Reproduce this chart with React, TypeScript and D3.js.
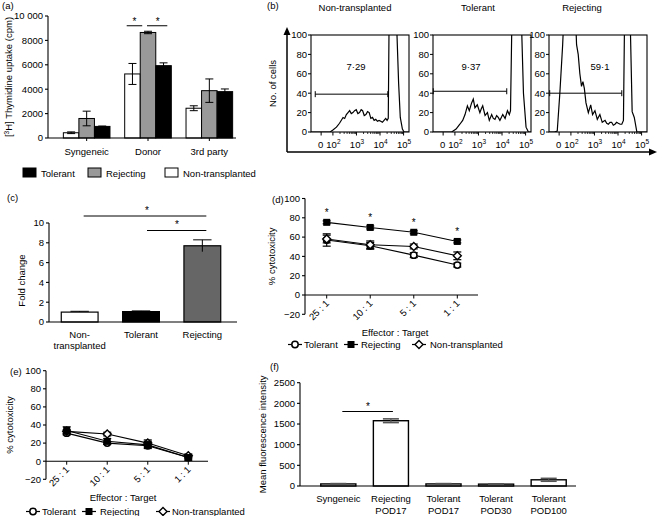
import * as d3 from "d3";

const FONT = "Liberation Sans, Arial, Helvetica, sans-serif";

// (a) thymidine uptake, cpm
const aGroups = ["Syngeneic", "Donor", "3rd party"];
const aSeries = ["Non-transplanted", "Rejecting", "Tolerant"];
const aNonTx = [430, 5250, 2440];
const aNonTxErr = [70, 860, 200];
const aRej = [1600, 8650, 3880];
const aRejErr = [600, 100, 960];
const aTol = [950, 5930, 3800];
const aTolErr = [30, 230, 220];
const aFill = ["#ffffff", "#999999", "#000000"];
const aYTicks = [0, 2000, 4000, 6000, 8000, 10000];
const aYLabels = ["0", "2000", "4000", "6000", "8000", "10 000"];
const aLegend = ["Tolerant", "Rejecting", "Non-transplanted"];
const aLegendFill = ["#000000", "#999999", "#ffffff"];

// (b) flow histograms, x in decades (biexponential display)
const bTitles = ["Non-transplanted", "Tolerant", "Rejecting"];
const bGateLabels = ["7·29", "9·37", "59·1"];
const bGateFrom = [1.25, 1.08, 1.1];
const bGateTo = [4.33, 4.2, 4.16];
const bGateY = [39, 42, 40];
const bXTicks = [2, 3, 4, 5];
const bXTickSup = ["2", "3", "4", "5"];
const bYTicks = [0, 20, 40, 60, 80, 100];
const bHistNonTx: [number, number][] = [
  [1.07, 0], [1.6, 0], [1.88, 0], [2.0, 2], [2.15, 5], [2.28, 9], [2.43, 15], [2.5, 14],
  [2.57, 18], [2.64, 20], [2.71, 22], [2.78, 19], [2.85, 20], [2.92, 22], [2.99, 23],
  [3.06, 19], [3.13, 20], [3.2, 23], [3.26, 22], [3.33, 17], [3.4, 18], [3.47, 21],
  [3.54, 20], [3.61, 14], [3.68, 15], [3.75, 12], [3.82, 13], [3.89, 11], [3.96, 12],
  [4.03, 11], [4.1, 10], [4.17, 12], [4.24, 14], [4.3, 12], [4.35, 14], [4.38, 100],
  [4.42, 130], [4.68, 130], [4.72, 100], [4.79, 50], [4.86, 15], [4.95, 3], [5.02, 0], [5.23, 0],
];
const bHistTol: [number, number][] = [
  [1.07, 0], [1.6, 0], [1.86, 0], [2.05, 3], [2.21, 8], [2.33, 12], [2.43, 18], [2.53, 27],
  [2.61, 22], [2.71, 30], [2.78, 34], [2.85, 25], [2.95, 28], [3.06, 20], [3.12, 24],
  [3.18, 27], [3.28, 17], [3.38, 20], [3.46, 12], [3.56, 18], [3.63, 14], [3.7, 13],
  [3.77, 17], [3.84, 15], [3.91, 12], [3.97, 15], [4.03, 18], [4.13, 14], [4.23, 22],
  [4.31, 18], [4.36, 22], [4.41, 100], [4.45, 130], [4.8, 130], [4.84, 100], [4.91, 40],
  [5.02, 5], [5.12, 0], [5.23, 0],
];
const bHistRej: [number, number][] = [
  [1.07, 0], [1.3, 0], [1.42, 1], [1.53, 40], [1.65, 90], [1.72, 130], [2.18, 130],
  [2.24, 90], [2.31, 80], [2.38, 60], [2.45, 47], [2.51, 52], [2.57, 45], [2.64, 30],
  [2.74, 20], [2.84, 28], [2.92, 18], [3.02, 22], [3.12, 13], [3.23, 18], [3.33, 10],
  [3.45, 12], [3.52, 9], [3.59, 8], [3.66, 10], [3.73, 10], [3.8, 7], [3.87, 8],
  [3.94, 10], [4.01, 9], [4.09, 8], [4.16, 8], [4.23, 12], [4.27, 100], [4.3, 130],
  [4.5, 130], [4.53, 100], [4.6, 21], [4.69, 15], [4.8, 0], [5.23, 0],
];
const bHists = [bHistNonTx, bHistTol, bHistRej];

// (c) fold change
const cCats = ["Non-", "Tolerant", "Rejecting"];
const cCats2 = ["transplanted", "", ""];
const cVals = [1.0, 1.05, 7.7];
const cErr = [0.08, 0.07, 0.6];
const cFill = ["#ffffff", "#000000", "#666666"];
const cYTicks = [0, 2, 4, 6, 8, 10];

// (d) and (e) cytotoxicity
const ratios = ["25 : 1", "10 : 1", "5 : 1", "1 : 1"];
const cytoTicks = [-20, 0, 20, 40, 60, 80, 100];
const dTol = [57, 51, 41.3, 31];
const dTolErr = [6.4, 3.5, 2.5, 2];
const dRej = [75.3, 70, 65, 55.5];
const dRejErr = [1.5, 1.5, 1.5, 1.5];
const dNon = [58, 52, 50.3, 40.6];
const dNonErr = [4, 4, 2.5, 4];
const eTol = [31, 20, 17, 4];
const eTolErr = [2, 1.5, 2, 1.5];
const eRej = [34, 22, 18, 4];
const eRejErr = [4, 3, 4, 3];
const eNon = [33, 30, 20, 6];
const eNonErr = [2, 2, 3.5, 2];
const cytoLegend = ["Tolerant", "Rejecting", "Non-transplanted"];

// (f) mean fluorescence intensity
const fCats = ["Syngeneic", "Rejecting", "Tolerant", "Tolerant", "Tolerant"];
const fCats2 = ["", "POD17", "POD17", "POD30", "POD100"];
const fVals = [50, 1580, 50, 45, 150];
const fErr = [8, 45, 8, 8, 35];
const fYTicks = [0, 500, 1000, 1500, 2000, 2500];

type Lin = d3.ScaleLinear<number, number>;

function YAxis({ x, y, ticks, labels }: { x: number; y: Lin; ticks: number[]; labels?: string[] }) {
  const [r0, r1] = y.range();
  return (
    <g>
      <line x1={x} x2={x} y1={r0} y2={r1} stroke="#000" strokeWidth={1.1} />
      {ticks.map((t, i) => (
        <g key={t}>
          <line x1={x - 3} x2={x} y1={y(t)} y2={y(t)} stroke="#000" strokeWidth={1.1} />
          <text x={x - 5} y={y(t)} dy="0.35em" textAnchor="end">
            {labels ? labels[i] : String(t).replace("-", "\u2212")}
          </text>
        </g>
      ))}
    </g>
  );
}

function Star({ x, y }: { x: number; y: number }) {
  return (
    <text x={x} y={y + 5} textAnchor="middle" fontSize={10}>
      *
    </text>
  );
}

function Marker({ kind, x, y }: { kind: string; x: number; y: number }) {
  if (kind === "circle")
    return <circle cx={x} cy={y} r={3.2} fill="#fff" stroke="#000" strokeWidth={1.5} />;
  if (kind === "square") return <rect x={x - 3.5} y={y - 3.5} width={7} height={7} fill="#000" />;
  return (
    <path
      d={`M${x},${y - 4}L${x + 4},${y}L${x},${y + 4}L${x - 4},${y}Z`}
      fill="#fff"
      stroke="#000"
      strokeWidth={1.4}
    />
  );
}

function PanelA() {
  const y = d3.scaleLinear().domain([0, 10000]).range([138, 16]);
  const x = d3.scaleBand().domain(aGroups).range([56, 240]).paddingInner(0.24).paddingOuter(0.12);
  const inner = d3.scaleBand().domain(aSeries).range([0, x.bandwidth()]);
  const vals = [aNonTx, aRej, aTol];
  const errs = [aNonTxErr, aRejErr, aTolErr];
  const bx = (g: number, s: number) => (x(aGroups[g]) ?? 0) + (inner(aSeries[s]) ?? 0);
  const bw = inner.bandwidth();
  return (
    <g>
      <text x={2} y={9}>(a)</text>
      <text transform={`translate(12,${y(5000)}) rotate(-90)`} textAnchor="middle">
        [<tspan dy={-3} fontSize={6.5}>3</tspan>
        <tspan dy={3}>H] Thymidine uptake (cpm)</tspan>
      </text>
      {aSeries.map((s, si) =>
        aGroups.map((g, gi) => {
          const v = vals[si][gi];
          const e = errs[si][gi];
          const cx = bx(gi, si) + bw / 2;
          return (
            <g key={s + g}>
              <rect x={bx(gi, si)} y={y(v)} width={bw} height={y(0) - y(v)} fill={aFill[si]} stroke="#000" strokeWidth={1} />
              <line x1={cx} x2={cx} y1={y(v + e)} y2={y(v - e)} stroke="#000" strokeWidth={1} />
              <line x1={cx - 4} x2={cx + 4} y1={y(v + e)} y2={y(v + e)} stroke="#000" strokeWidth={1} />
              <line x1={cx - 4} x2={cx + 4} y1={y(v - e)} y2={y(v - e)} stroke="#000" strokeWidth={1} />
            </g>
          );
        })
      )}
      <YAxis x={48} y={y} ticks={aYTicks} labels={aYLabels} />
      <line x1={48} x2={236} y1={y(0)} y2={y(0)} stroke="#000" strokeWidth={1.1} />
      {aGroups.map((g) => {
        const cx = (x(g) ?? 0) + x.bandwidth() / 2;
        return (
          <g key={g}>
            <line x1={cx} x2={cx} y1={y(0)} y2={y(0) + 3} stroke="#000" />
            <text x={cx} y={155} textAnchor="middle">{g}</text>
          </g>
        );
      })}
      <line x1={bx(1, 0) + 2} x2={bx(1, 1) + 2} y1={y(9200)} y2={y(9200)} stroke="#000" />
      <Star x={(bx(1, 0) + bx(1, 1)) / 2 + 2} y={y(9700)} />
      <line x1={bx(1, 1) + bw / 2 - 1} x2={bx(1, 2) + bw - 4} y1={y(9200)} y2={y(9200)} stroke="#000" />
      <Star x={(bx(1, 1) + bx(1, 2) + bw) / 2 + 2} y={y(9700)} />
      {aLegend.map((l, i) => {
        const lx = [23, 88, 165][i];
        return (
          <g key={l}>
            <rect x={lx} y={168} width={13} height={9} fill={aLegendFill[i]} stroke="#000" />
            <text x={lx + 18} y={177}>{l}</text>
          </g>
        );
      })}
    </g>
  );
}

function PanelB() {
  const y = d3.scaleLinear().domain([0, 100]).range([132, 35]);
  const left = [311, 433, 549];
  const w = 98;
  const minor = d3.range(2, 5).flatMap((dec) => d3.range(2, 10).map((k) => dec + Math.log10(k)));
  return (
    <g>
      <defs>
        {left.map((l, i) => (
          <clipPath id={`hclip${i}`} key={i}>
            <rect x={l} y={y(100)} width={w} height={y(0) - y(100)} />
          </clipPath>
        ))}
      </defs>
      <text x={267} y={9}>(b)</text>
      <text transform={`translate(276,${y(50)}) rotate(-90)`} textAnchor="middle">No. of cells</text>
      <line x1={287} x2={287} y1={152} y2={33} stroke="#000" strokeWidth={1.5} />
      <path d="M287,27L283.5,35L290.5,35Z" fill="#000" />
      <line x1={287} x2={651} y1={152} y2={152} stroke="#000" strokeWidth={1.5} />
      <path d="M657,152L649,148.5L649,155.5Z" fill="#000" />
      {left.map((l, i) => {
        const x = d3.scaleLinear().domain([1.07, 5.23]).range([l, l + w]);
        const ln = d3.line<[number, number]>().x((d) => x(d[0])).y((d) => y(d[1]));
        const cx = l + w / 2;
        return (
          <g key={i}>
            <text x={[355, 478, 582][i]} y={11} textAnchor="middle">{bTitles[i]}</text>
            <path d={ln(bHists[i]) ?? ""} fill="none" stroke="#000" strokeWidth={1.2} clipPath={`url(#hclip${i})`} />
            <rect x={l} y={y(100)} width={w} height={y(0) - y(100)} fill="none" stroke="#000" strokeWidth={1.1} />
            {bYTicks.map((t) => (
              <g key={t}>
                <line x1={l - 3} x2={l} y1={y(t)} y2={y(t)} stroke="#000" />
                <text x={l - 4} y={y(t)} dy="0.35em" textAnchor="end">{t}</text>
              </g>
            ))}
            {minor.map((m) => (
              <line key={m} x1={x(m)} x2={x(m)} y1={y(0)} y2={y(0) + 2} stroke="#000" strokeWidth={0.8} />
            ))}
            <line x1={x(1.5)} x2={x(1.5)} y1={y(0)} y2={y(0) + 3.5} stroke="#000" />
            <text x={x(1.5) - 0.5} y={148} textAnchor="middle">0</text>
            {bXTicks.map((t, k) => (
              <g key={t}>
                <line x1={x(t)} x2={x(t)} y1={y(0)} y2={y(0) + 3.5} stroke="#000" />
                <text x={x(t) + 0.5} y={148} textAnchor="middle">
                  10<tspan dy={-4} fontSize={6.5}>{bXTickSup[k]}</tspan>
                </text>
              </g>
            ))}
            <line x1={x(bGateFrom[i])} x2={x(bGateTo[i])} y1={y(bGateY[i])} y2={y(bGateY[i])} stroke="#000" />
            <line x1={x(bGateFrom[i])} x2={x(bGateFrom[i])} y1={y(bGateY[i]) - 3} y2={y(bGateY[i]) + 3} stroke="#000" />
            <line x1={x(bGateTo[i])} x2={x(bGateTo[i])} y1={y(bGateY[i]) - 3} y2={y(bGateY[i]) + 3} stroke="#000" />
            <text x={cx - [4, 11, -2][i]} y={y(67)} dy="0.35em" textAnchor="middle">{bGateLabels[i]}</text>
          </g>
        );
      })}
    </g>
  );
}

function PanelC() {
  const y = d3.scaleLinear().domain([0, 10]).range([322, 223]);
  const x = d3.scaleBand().domain(cCats).range([49, 233]).paddingInner(0.4).paddingOuter(0.2);
  const cxOf = (i: number) => (x(cCats[i]) ?? 0) + x.bandwidth() / 2;
  return (
    <g>
      <text x={7} y={201}>(c)</text>
      <text transform={`translate(25,${y(5) + 8}) rotate(-90)`} textAnchor="middle">Fold change</text>
      {cCats.map((c, i) => {
        const v = cVals[i];
        const e = cErr[i];
        const cx = cxOf(i);
        const bw = x.bandwidth();
        return (
          <g key={c}>
            <line x1={cx} x2={cx} y1={y(v)} y2={y(v + e)} stroke="#000" />
            <line x1={cx - bw / 4} x2={cx + bw / 4} y1={y(v + e)} y2={y(v + e)} stroke="#000" />
            <rect x={x(c)} y={y(v)} width={bw} height={y(0) - y(v)} fill={cFill[i]} stroke="#000" strokeWidth={1.2} />
            {i === 2 && <line x1={cx} x2={cx} y1={y(v)} y2={y(v - e)} stroke="#000" />}
            <text x={cx} y={337.5} textAnchor="middle">{c}</text>
            {cCats2[i] && <text x={cx} y={348.5} textAnchor="middle">{cCats2[i]}</text>}
          </g>
        );
      })}
      <YAxis x={49} y={y} ticks={cYTicks} />
      <line x1={49} x2={237} y1={y(0)} y2={y(0)} stroke="#000" strokeWidth={1.1} />
      <line x1={cxOf(0) + 4} x2={cxOf(2) + 4} y1={216} y2={216} stroke="#000" />
      <Star x={147} y={209} />
      <line x1={cxOf(1) + 6} x2={cxOf(2) + 4} y1={230.5} y2={230.5} stroke="#000" />
      <Star x={177} y={223} />
    </g>
  );
}

type CytoProps = {
  label: string;
  labelX: number;
  labelY: number;
  axisX: number;
  axisEnd: number;
  yRange: [number, number];
  xRange: [number, number];
  tol: number[];
  tolErr: number[];
  rej: number[];
  rejErr: number[];
  non: number[];
  nonErr: number[];
  stars: boolean;
  titleX: number;
  yTitleX: number;
  legendY: number;
  legendX: number[];
  legendGap: number[];
};

function Cyto(p: CytoProps) {
  const y = d3.scaleLinear().domain([-20, 100]).range(p.yRange);
  const x = d3.scalePoint().domain(ratios).range(p.xRange);
  const series = [
    { v: p.tol, e: p.tolErr, kind: "circle" },
    { v: p.non, e: p.nonErr, kind: "diamond" },
    { v: p.rej, e: p.rejErr, kind: "square" },
  ];
  const ln = (vals: number[]) =>
    d3.line<number>().x((_, i) => x(ratios[i]) ?? 0).y((d) => y(d))(vals) ?? "";
  const legendKinds = ["circle", "square", "diamond"];
  return (
    <g>
      <text x={p.labelX} y={p.labelY}>{p.label}</text>
      <text transform={`translate(${p.yTitleX},${y(40)}) rotate(-90)`} textAnchor="middle">% cytotoxicity</text>
      <YAxis x={p.axisX} y={y} ticks={cytoTicks} />
      <line x1={p.axisX} x2={p.axisEnd} y1={y(0)} y2={y(0)} stroke="#000" strokeWidth={1.1} />
      {ratios.map((r) => (
        <g key={r}>
          <line x1={x(r)} x2={x(r)} y1={y(0)} y2={y(0) + 3.5} stroke="#000" />
          <text transform={`translate(${(x(r) ?? 0) + 3},${y(0) + 9}) rotate(-45)`} textAnchor="end">{r}</text>
        </g>
      ))}
      <text x={p.titleX} y={y(-20) + 22} textAnchor="middle">Effector : Target</text>
      {series.map((s) => (
        <path key={s.kind} d={ln(s.v)} fill="none" stroke="#000" strokeWidth={1.1} />
      ))}
      {series.map((s) =>
        s.v.map((v, i) => {
          const cx = x(ratios[i]) ?? 0;
          return (
            <g key={s.kind + i}>
              <line x1={cx} x2={cx} y1={y(v + s.e[i])} y2={y(v - s.e[i])} stroke="#000" strokeWidth={1.2} />
              <line x1={cx - 4} x2={cx + 4} y1={y(v + s.e[i])} y2={y(v + s.e[i])} stroke="#000" strokeWidth={1.2} />
              <line x1={cx - 4} x2={cx + 4} y1={y(v - s.e[i])} y2={y(v - s.e[i])} stroke="#000" strokeWidth={1.2} />
              <Marker kind={s.kind} x={cx} y={y(v)} />
            </g>
          );
        })
      )}
      {p.stars && p.rej.map((v, i) => <Star key={i} x={x(ratios[i]) ?? 0} y={y(v) - 11} />)}
      {cytoLegend.map((l, i) => {
        const mx = p.legendX[i];
        return (
          <g key={l}>
            <line x1={mx - 7} x2={mx + 7} y1={p.legendY - 3.5} y2={p.legendY - 3.5} stroke="#000" strokeWidth={1.2} />
            <Marker kind={legendKinds[i]} x={mx} y={p.legendY - 3.5} />
            <text x={mx + p.legendGap[i]} y={p.legendY}>{l}</text>
          </g>
        );
      })}
    </g>
  );
}

function PanelF() {
  const y = d3.scaleLinear().domain([0, 2500]).range([486, 382.7]);
  const x = d3.scaleBand<number>().domain(d3.range(fCats.length)).range([305, 582]).paddingInner(0.333).paddingOuter(0.3);
  const bw = x.bandwidth();
  const cxOf = (i: number) => (x(i) ?? 0) + bw / 2;
  return (
    <g>
      <text x={270} y={370}>(f)</text>
      <text transform={`translate(266,${y(1250)}) rotate(-90)`} textAnchor="middle">Mean fluorescence intensity</text>
      {fCats.map((c, i) => {
        const v = fVals[i];
        const e = fErr[i];
        const cx = cxOf(i);
        return (
          <g key={i}>
            <rect x={x(i)} y={y(v)} width={bw} height={y(0) - y(v)} fill="#fff" stroke="#000" strokeWidth={1.4} />
            <line x1={cx} x2={cx} y1={y(v + e)} y2={y(v - e)} stroke="#555" strokeWidth={1.2} />
            <line x1={cx - 8} x2={cx + 8} y1={y(v + e)} y2={y(v + e)} stroke="#555" strokeWidth={1.6} />
            <line x1={cx - 8} x2={cx + 8} y1={y(v - e)} y2={y(v - e)} stroke="#555" strokeWidth={1.6} />
            <text x={cx} y={502} textAnchor="middle">{c}</text>
            {fCats2[i] && <text x={cx} y={513.5} textAnchor="middle">{fCats2[i]}</text>}
          </g>
        );
      })}
      <YAxis x={300} y={y} ticks={fYTicks} />
      <line x1={300} x2={576} y1={y(0)} y2={y(0)} stroke="#000" strokeWidth={1.1} />
      <line x1={cxOf(0) + 4} x2={cxOf(1) + 2} y1={411.5} y2={411.5} stroke="#000" />
      <Star x={368} y={405} />
    </g>
  );
}

export default function App() {
  return (
    <svg
      width={659}
      height={516}
      viewBox="0 0 659 516"
      style={{ position: "absolute", left: 0, top: 0, background: "#fff" }}
      fontFamily={FONT}
      fontSize={9.5}
      fill="#000"
    >
      <rect width={659} height={516} fill="#fff" />
      <PanelA />
      <PanelB />
      <PanelC />
      <Cyto
        label="(d)"
        labelX={272}
        labelY={203}
        axisX={305}
        axisEnd={478}
        yRange={[314.3, 198.5]}
        xRange={[326.7, 457.3]}
        tol={dTol}
        tolErr={dTolErr}
        rej={dRej}
        rejErr={dRejErr}
        non={dNon}
        nonErr={dNonErr}
        stars={true}
        titleX={395}
        yTitleX={275}
        legendY={348}
        legendX={[295, 351, 419]}
        legendGap={[9, 10, 11]}
      />
      <Cyto
        label="(e)"
        labelX={10}
        labelY={375}
        axisX={46}
        axisEnd={208}
        yRange={[479.3, 370.7]}
        xRange={[66.7, 188.3]}
        tol={eTol}
        tolErr={eTolErr}
        rej={eRej}
        rejErr={eRejErr}
        non={eNon}
        nonErr={eNonErr}
        stars={false}
        titleX={123}
        yTitleX={13}
        legendY={515}
        legendX={[33, 89, 163]}
        legendGap={[9, 11, 9]}
      />
      <PanelF />
    </svg>
  );
}
